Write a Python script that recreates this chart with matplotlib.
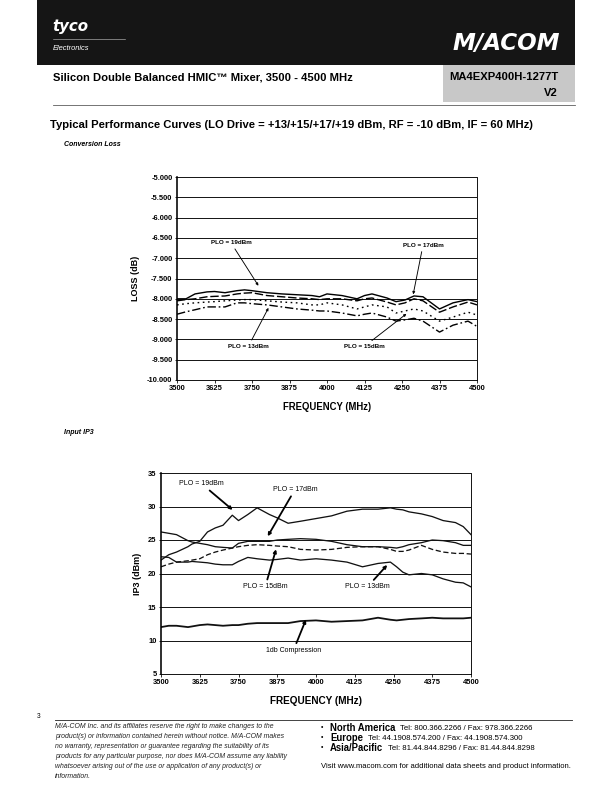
import matplotlib.pyplot as plt
from matplotlib.patches import Rectangle
from matplotlib.lines import Line2D

plt.rcParams.update({
    "font.family": ["Liberation Sans", "DejaVu Sans"],
    "font.weight": "normal",
})

W, H = 612, 792

# --- conversion loss data (dB) ---
cl_freq = [3500, 3530, 3560, 3600, 3625, 3660, 3700, 3725, 3750, 3800, 3850, 3900,
           3950, 3975, 4000, 4050, 4100, 4125, 4150, 4200, 4230, 4260, 4290, 4320,
           4375, 4420, 4470, 4500]
cl_19 = [-8.00, -8.00, -7.88, -7.83, -7.82, -7.85, -7.80, -7.78, -7.80, -7.85, -7.88, -7.90,
         -7.92, -7.95, -7.88, -7.92, -8.00, -7.92, -7.88, -7.98, -8.07, -8.03, -7.93, -7.95,
         -8.25, -8.10, -8.02, -8.07]
cl_17 = [-8.05, -8.02, -8.00, -7.95, -7.94, -7.93, -7.88, -7.86, -7.85, -7.92, -7.95, -7.98,
         -8.00, -8.02, -8.00, -8.00, -8.05, -8.00, -7.98, -8.08, -8.15, -8.10, -8.00, -8.05,
         -8.33, -8.20, -8.08, -8.15]
cl_15 = [-8.15, -8.12, -8.10, -8.08, -8.07, -8.05, -8.03, -8.02, -8.02, -8.05, -8.08, -8.10,
         -8.15, -8.15, -8.10, -8.15, -8.25, -8.20, -8.15, -8.20, -8.35, -8.30, -8.25, -8.30,
         -8.55, -8.45, -8.33, -8.40]
cl_13 = [-8.38, -8.32, -8.27, -8.20, -8.20, -8.20, -8.10, -8.10, -8.12, -8.15, -8.20, -8.25,
         -8.28, -8.30, -8.30, -8.35, -8.42, -8.38, -8.35, -8.45, -8.55, -8.52, -8.48, -8.55,
         -8.82, -8.65, -8.55, -8.68]

# --- input IP3 data (dBm) ---
ip_freq = [3500, 3525, 3550, 3587, 3600, 3625, 3650, 3675, 3700, 3730, 3750, 3780,
           3810, 3850, 3875, 3910, 3950, 4000, 4050, 4100, 4150, 4200, 4240, 4260,
           4280, 4300, 4340, 4375, 4410, 4450, 4475, 4500]
ip_19 = [22.0, 22.8, 23.2, 24.0, 24.4, 24.8, 26.2, 26.8, 27.2, 28.7, 27.9, 28.8,
         29.8, 28.8, 28.3, 27.5, 27.8, 28.2, 28.6, 29.3, 29.6, 29.6, 29.8, 29.6,
         29.5, 29.2, 28.9, 28.5, 27.9, 27.6, 27.0, 25.8]
ip_17 = [26.2, 26.0, 25.8, 24.9, 24.7, 24.5, 24.3, 24.0, 23.9, 23.8, 24.5, 24.8,
         24.8, 24.8, 25.0, 25.1, 25.2, 25.1, 24.8, 24.3, 24.0, 24.0, 23.9, 23.8,
         24.0, 24.3, 24.6, 25.0, 24.9, 24.6, 24.2, 24.2]
ip_15 = [21.0, 21.4, 21.7, 21.9, 22.0, 22.2, 22.8, 23.2, 23.5, 23.8, 24.0, 24.2,
         24.3, 24.2, 24.1, 24.0, 23.6, 23.5, 23.6, 23.9, 24.0, 24.0, 23.6, 23.3,
         23.3, 23.5, 24.2, 23.6, 23.2, 23.0, 23.0, 22.9]
ip_13 = [22.5, 22.4, 21.7, 21.7, 21.8, 21.7, 21.6, 21.4, 21.3, 21.3, 21.8, 22.4,
         22.2, 22.0, 22.1, 22.3, 22.0, 22.2, 22.0, 21.7, 21.0, 21.5, 21.7, 21.0,
         20.2, 19.8, 20.0, 19.8, 19.2, 18.7, 18.6, 18.0]
ip_1db = [12.0, 12.2, 12.2, 12.0, 12.1, 12.3, 12.4, 12.3, 12.2, 12.3, 12.3, 12.5,
          12.6, 12.6, 12.6, 12.6, 12.9, 13.0, 12.8, 12.9, 13.0, 13.4, 13.1, 13.0,
          13.1, 13.2, 13.3, 13.4, 13.3, 13.3, 13.3, 13.4]

freq_ticks = [3500, 3625, 3750, 3875, 4000, 4125, 4250, 4375, 4500]
cl_ticks = [-5.0, -5.5, -6.0, -6.5, -7.0, -7.5, -8.0, -8.5, -9.0, -9.5, -10.0]
ip_ticks = [5, 10, 15, 20, 25, 30, 35]

fig = plt.figure(figsize=(W / 72, H / 72), dpi=72)


def fx(x):
    return x / W


def fy(y):
    return 1 - y / H


def ftext(x, y, s, **kw):
    return fig.text(fx(x), fy(y), s, **kw)


def hline(x0, x1, y, lw=1.0, color='k'):
    fig.add_artist(Line2D([fx(x0), fx(x1)], [fy(y), fy(y)], lw=lw, color=color,
                          transform=fig.transFigure))


# header
fig.add_artist(Rectangle((fx(37), fy(65)), fx(575) - fx(37), fy(0) - fy(65),
                         facecolor='#151515', edgecolor='none', transform=fig.transFigure))
ftext(52, 26, 'tyco', color='white', fontsize=15, fontweight='bold', style='italic',
      va='center', ha='left', family='DejaVu Sans')
hline(53, 125, 39, lw=0.6, color='#bbbbbb')
ftext(53, 48, 'Electronics', color='white', fontsize=7.5, style='italic', va='center')
ftext(506, 43, 'M/ACOM', color='white', fontsize=23, fontweight='bold', style='italic',
      va='center', ha='center', family='DejaVu Sans')

fig.add_artist(Rectangle((fx(443), fy(102)), fx(575) - fx(443), fy(65) - fy(102),
                         facecolor='#c8c8c8', edgecolor='none', transform=fig.transFigure))
hline(53, 575, 105, lw=0.8, color='#555555')
ftext(53, 78, 'Silicon Double Balanced HMIC\u2122 Mixer, 3500 - 4500 MHz', fontsize=11.3,
      fontweight='bold', va='center')
ftext(558, 77, 'MA4EXP400H-1277T', fontsize=11.3, fontweight='bold', va='center', ha='right')
ftext(558, 93, 'V2', fontsize=11.3, fontweight='bold', va='center', ha='right')

ftext(50, 125, 'Typical Performance Curves (LO Drive = +13/+15/+17/+19 dBm, RF = -10 dBm, IF = 60 MHz)',
      fontsize=11.3, fontweight='bold', va='center')
ftext(64, 145, 'Conversion Loss', fontsize=7, fontweight='bold', style='italic', va='center')
ftext(64, 433, 'Input IP3', fontsize=7, fontweight='bold', style='italic', va='center')


def style_axes(ax, ticks, fmt):
    ax.set_xlim(3500, 4500)
    ax.set_xticks(freq_ticks)
    ax.set_yticks(ticks)
    ax.set_yticklabels([fmt.format(t) for t in ticks])
    ax.tick_params(labelsize=7.5, length=2.5, width=0.8, pad=2)
    for lab in ax.get_xticklabels() + ax.get_yticklabels():
        lab.set_fontweight('bold')
    ax.grid(axis='y', color='k', lw=0.9)
    ax.set_axisbelow(True)
    for s in ax.spines.values():
        s.set_linewidth(0.9)
    ax.spines['left'].set_linewidth(1.6)
    ax.spines['top'].set_visible(False)


# conversion loss chart
ax1 = fig.add_axes([fx(177), fy(380), fx(477) - fx(177), fy(177) - fy(380)])
ax1.plot(cl_freq, cl_19, color='k', lw=1.4)
ax1.plot(cl_freq, cl_17, color='k', lw=1.4, dashes=(6, 2))
ax1.plot(cl_freq, cl_15, color='k', lw=1.4, dashes=(1.2, 2.5))
ax1.plot(cl_freq, cl_13, color='k', lw=1.4, dashes=(6, 2, 1.2, 2))
ax1.set_ylim(-10.0, -5.0)
style_axes(ax1, cl_ticks, '{:.3f}')
ax1.set_xlabel('FREQUENCY (MHz)', fontsize=9.5, fontweight='bold', labelpad=10)
ax1.set_ylabel('LOSS (dB)', fontsize=9, fontweight='bold', labelpad=7)

arr1 = dict(arrowstyle='-|>', color='k', lw=0.9, mutation_scale=5)
kw1 = dict(fontsize=6.3, fontweight='bold', ha='center', va='center', arrowprops=arr1)
ax1.annotate('PLO = 19dBm', xy=(3775, -7.72), xytext=(3680, -6.62), **kw1)
ax1.annotate('PLO = 17dBm', xy=(4286, -7.94), xytext=(4320, -6.68), **kw1)
ax1.annotate('PLO = 13dBm', xy=(3808, -8.18), xytext=(3738, -9.17), **kw1)
ax1.annotate('PLO = 15dBm', xy=(4270, -8.34), xytext=(4125, -9.17), **kw1)

# IP3 chart
ax2 = fig.add_axes([fx(161), fy(674), fx(471) - fx(161), fy(473) - fy(674)])
ax2.plot(ip_freq, ip_19, color='#111111', lw=1.3)
ax2.plot(ip_freq, ip_17, color='#111111', lw=1.3)
ax2.plot(ip_freq, ip_15, color='#111111', lw=1.3, dashes=(4, 2))
ax2.plot(ip_freq, ip_13, color='#111111', lw=1.3)
ax2.plot(ip_freq, ip_1db, color='#111111', lw=1.8)
ax2.set_ylim(5, 35)
style_axes(ax2, ip_ticks, '{:d}')
ax2.set_xlabel('FREQUENCY (MHz)', fontsize=10, fontweight='bold', labelpad=10)
ax2.set_ylabel('IP3 (dBm)', fontsize=9, fontweight='bold', labelpad=6)

arr2 = dict(arrowstyle='-|>', color='k', lw=1.8, mutation_scale=6)
kw2 = dict(fontsize=7, ha='center', va='center', arrowprops=arr2)
ax2.annotate('PLO = 19dBm', xy=(3736, 29.3), xytext=(3631, 33.4), **kw2)
ax2.annotate('PLO = 17dBm', xy=(3841, 25.3), xytext=(3933, 32.6), **kw2)
ax2.annotate('PLO = 15dBm', xy=(3873, 23.9), xytext=(3836, 18.0), **kw2)
ax2.annotate('PLO = 13dBm', xy=(4234, 21.5), xytext=(4166, 18.0), **kw2)
ax2.annotate('1db Compression', xy=(3970, 13.4), xytext=(3927, 8.5), **kw2)

# footer
ftext(37, 716, '3', fontsize=6.5, va='center')
hline(55, 572, 720, lw=0.9, color='#333333')
disclaimer = [
    'M/A-COM Inc. and its affiliates reserve the right to make changes to the',
    'product(s) or information contained herein without notice. M/A-COM makes',
    'no warranty, representation or guarantee regarding the suitability of its',
    'products for any particular purpose, nor does M/A-COM assume any liability',
    'whatsoever arising out of the use or application of any product(s) or',
    'information.',
]
for i, line in enumerate(disclaimer):
    ftext(55, 727 + i * 9.8, line, fontsize=6.9, style='italic', va='center', color='#222222')

regions = [('North America', 'Tel: 800.366.2266 / Fax: 978.366.2266'),
           ('Europe', 'Tel: 44.1908.574.200 / Fax: 44.1908.574.300'),
           ('Asia/Pacific', 'Tel: 81.44.844.8296 / Fax: 81.44.844.8298')]
for i, (name, tel) in enumerate(regions):
    y = 728 + i * 10
    ftext(321, y, '\u2022', fontsize=7, va='center')
    t = ftext(330, y, name, fontsize=9.5, fontweight='bold', va='center')
    ax1.annotate(tel, xy=(1, 0.5), xycoords=t, xytext=(5, 0), textcoords='offset points',
                 fontsize=7.8, va='center', ha='left', annotation_clip=False)
ftext(321, 766, 'Visit www.macom.com for additional data sheets and product information.',
      fontsize=7.6, va='center')

fig.savefig('out.png', dpi=72)
